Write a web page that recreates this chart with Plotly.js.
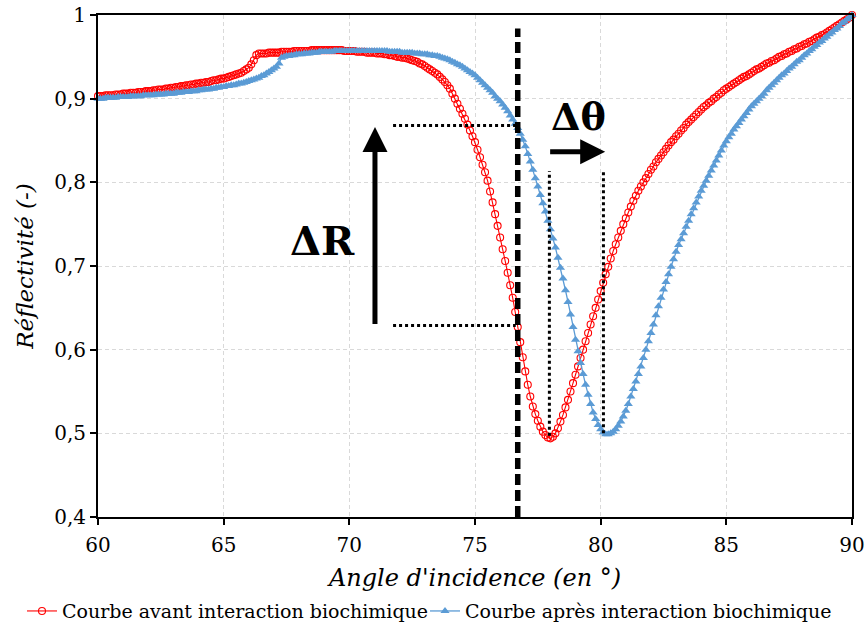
<!DOCTYPE html>
<html><head><meta charset="utf-8">
<script src="https://cdn.plot.ly/plotly-3.0.1.min.js"></script>
<style>html,body{margin:0;padding:0;background:#fff}#chart{width:867px;height:630px}</style>
</head><body><div id="chart"></div><script>
// Angle of incidence (degrees)
const angles = [
60.0,60.1,60.2,60.3,60.4,60.5,60.6,60.7,60.8,60.9,
61.0,61.1,61.2,61.3,61.4,61.5,61.6,61.7,61.8,61.9,
62.0,62.1,62.2,62.3,62.4,62.5,62.6,62.7,62.8,62.9,
63.0,63.1,63.2,63.3,63.4,63.5,63.6,63.7,63.8,63.9,
64.0,64.1,64.2,64.3,64.4,64.5,64.6,64.7,64.8,64.9,
65.0,65.1,65.2,65.3,65.4,65.5,65.6,65.7,65.8,65.9,
66.0,66.1,66.2,66.3,66.4,66.5,66.6,66.7,66.8,66.9,
67.0,67.1,67.2,67.3,67.4,67.5,67.6,67.7,67.8,67.9,
68.0,68.1,68.2,68.3,68.4,68.5,68.6,68.7,68.8,68.9,
69.0,69.1,69.2,69.3,69.4,69.5,69.6,69.7,69.8,69.9,
70.0,70.1,70.2,70.3,70.4,70.5,70.6,70.7,70.8,70.9,
71.0,71.1,71.2,71.3,71.4,71.5,71.6,71.7,71.8,71.9,
72.0,72.1,72.2,72.3,72.4,72.5,72.6,72.7,72.8,72.9,
73.0,73.1,73.2,73.3,73.4,73.5,73.6,73.7,73.8,73.9,
74.0,74.1,74.2,74.3,74.4,74.5,74.6,74.7,74.8,74.9,
75.0,75.1,75.2,75.3,75.4,75.5,75.6,75.7,75.8,75.9,
76.0,76.1,76.2,76.3,76.4,76.5,76.6,76.7,76.8,76.9,
77.0,77.1,77.2,77.3,77.4,77.5,77.6,77.7,77.8,77.9,
78.0,78.1,78.2,78.3,78.4,78.5,78.6,78.7,78.8,78.9,
79.0,79.1,79.2,79.3,79.4,79.5,79.6,79.7,79.8,79.9,
80.0,80.1,80.2,80.3,80.4,80.5,80.6,80.7,80.8,80.9,
81.0,81.1,81.2,81.3,81.4,81.5,81.6,81.7,81.8,81.9,
82.0,82.1,82.2,82.3,82.4,82.5,82.6,82.7,82.8,82.9,
83.0,83.1,83.2,83.3,83.4,83.5,83.6,83.7,83.8,83.9,
84.0,84.1,84.2,84.3,84.4,84.5,84.6,84.7,84.8,84.9,
85.0,85.1,85.2,85.3,85.4,85.5,85.6,85.7,85.8,85.9,
86.0,86.1,86.2,86.3,86.4,86.5,86.6,86.7,86.8,86.9,
87.0,87.1,87.2,87.3,87.4,87.5,87.6,87.7,87.8,87.9,
88.0,88.1,88.2,88.3,88.4,88.5,88.6,88.7,88.8,88.9,
89.0,89.1,89.2,89.3,89.4,89.5,89.6,89.7,89.8,89.9,
90.0];

// Reflectivity before biochemical interaction
const reflAvant = [
0.903,0.903,0.903,0.904,0.904,0.904,0.904,0.905,0.905,0.905,
0.906,0.906,0.906,0.907,0.907,0.907,0.908,0.908,0.908,0.909,
0.909,0.909,0.910,0.910,0.911,0.911,0.911,0.912,0.912,0.913,
0.913,0.914,0.914,0.915,0.915,0.916,0.916,0.917,0.917,0.918,
0.918,0.919,0.919,0.920,0.920,0.921,0.922,0.922,0.923,0.924,
0.924,0.925,0.926,0.927,0.928,0.929,0.930,0.931,0.933,0.935,
0.937,0.941,0.946,0.952,0.954,0.954,0.954,0.954,0.955,0.955,
0.955,0.955,0.955,0.956,0.956,0.956,0.956,0.956,0.957,0.957,
0.957,0.957,0.957,0.957,0.957,0.958,0.958,0.958,0.958,0.958,
0.958,0.958,0.958,0.958,0.958,0.958,0.958,0.958,0.957,0.957,
0.957,0.957,0.957,0.956,0.956,0.956,0.956,0.955,0.955,0.955,
0.955,0.954,0.954,0.954,0.953,0.953,0.952,0.952,0.951,0.950,
0.950,0.949,0.949,0.948,0.947,0.946,0.945,0.944,0.942,0.941,
0.939,0.937,0.935,0.933,0.931,0.929,0.926,0.923,0.920,0.916,
0.912,0.906,0.900,0.894,0.888,0.882,0.876,0.869,0.862,0.855,
0.848,0.839,0.830,0.821,0.812,0.802,0.789,0.776,0.762,0.748,
0.734,0.720,0.706,0.692,0.677,0.662,0.645,0.627,0.609,0.591,
0.574,0.558,0.544,0.532,0.523,0.515,0.508,0.502,0.498,0.495,
0.494,0.496,0.500,0.506,0.514,0.522,0.531,0.540,0.550,0.560,
0.570,0.580,0.590,0.600,0.610,0.620,0.630,0.640,0.650,0.660,
0.670,0.680,0.690,0.699,0.709,0.718,0.726,0.734,0.742,0.750,
0.757,0.764,0.771,0.778,0.784,0.790,0.795,0.800,0.805,0.810,
0.815,0.819,0.824,0.828,0.832,0.836,0.840,0.844,0.848,0.851,
0.855,0.858,0.862,0.865,0.869,0.872,0.875,0.878,0.881,0.884,
0.887,0.890,0.892,0.895,0.897,0.900,0.902,0.905,0.907,0.910,
0.912,0.914,0.916,0.918,0.920,0.922,0.924,0.926,0.927,0.929,
0.931,0.933,0.935,0.936,0.938,0.940,0.942,0.943,0.945,0.946,
0.948,0.950,0.951,0.953,0.954,0.956,0.957,0.959,0.960,0.962,
0.963,0.965,0.966,0.968,0.969,0.971,0.973,0.974,0.976,0.977,
0.979,0.981,0.983,0.985,0.987,0.989,0.991,0.993,0.995,0.997,
1.000];

// Reflectivity after biochemical interaction
const reflApres = [
0.900,0.900,0.900,0.901,0.901,0.901,0.901,0.901,0.902,0.902,
0.902,0.902,0.902,0.903,0.903,0.903,0.903,0.903,0.904,0.904,
0.904,0.904,0.904,0.905,0.905,0.905,0.905,0.906,0.906,0.906,
0.906,0.907,0.907,0.907,0.908,0.908,0.908,0.909,0.909,0.909,
0.910,0.910,0.911,0.911,0.911,0.912,0.912,0.913,0.913,0.914,
0.914,0.915,0.915,0.916,0.916,0.917,0.918,0.918,0.919,0.920,
0.921,0.922,0.923,0.924,0.925,0.927,0.928,0.930,0.932,0.934,
0.936,0.938,0.942,0.949,0.950,0.951,0.951,0.952,0.952,0.953,
0.953,0.953,0.954,0.954,0.954,0.955,0.955,0.955,0.956,0.956,
0.956,0.956,0.956,0.956,0.957,0.957,0.957,0.957,0.957,0.957,
0.957,0.957,0.957,0.957,0.957,0.957,0.957,0.957,0.957,0.957,
0.957,0.957,0.957,0.957,0.957,0.957,0.956,0.956,0.956,0.956,
0.956,0.955,0.955,0.955,0.955,0.955,0.954,0.954,0.954,0.953,
0.953,0.953,0.952,0.952,0.951,0.951,0.950,0.949,0.948,0.947,
0.946,0.944,0.943,0.941,0.940,0.938,0.936,0.934,0.932,0.930,
0.928,0.925,0.922,0.919,0.916,0.913,0.910,0.907,0.903,0.900,
0.897,0.893,0.889,0.885,0.880,0.875,0.870,0.865,0.858,0.851,
0.843,0.834,0.825,0.815,0.805,0.795,0.785,0.775,0.765,0.754,
0.744,0.733,0.722,0.710,0.698,0.685,0.671,0.657,0.642,0.627,
0.612,0.598,0.584,0.571,0.558,0.546,0.535,0.525,0.517,0.510,
0.505,0.501,0.499,0.499,0.500,0.502,0.505,0.509,0.514,0.520,
0.527,0.535,0.544,0.553,0.562,0.571,0.580,0.590,0.600,0.610,
0.620,0.630,0.641,0.652,0.662,0.672,0.681,0.690,0.699,0.708,
0.717,0.725,0.732,0.739,0.747,0.754,0.762,0.769,0.776,0.783,
0.790,0.796,0.802,0.808,0.814,0.820,0.826,0.832,0.838,0.844,
0.849,0.854,0.858,0.863,0.867,0.871,0.875,0.879,0.883,0.887,
0.891,0.894,0.897,0.900,0.903,0.906,0.910,0.913,0.916,0.919,
0.922,0.925,0.928,0.930,0.933,0.936,0.938,0.941,0.944,0.946,
0.949,0.952,0.954,0.957,0.959,0.962,0.964,0.967,0.969,0.972,
0.974,0.977,0.979,0.982,0.984,0.987,0.990,0.992,0.995,0.997,
1.000];

const seriesNames = ['Courbe avant interaction biochimique', 'Courbe après interaction biochimique'];

// Annotation guides (data coordinates)
const workingAngle = 76.7;          // thick dashed vertical
const workingAngleTop = 0.984;
const deltaRLevels = [0.868, 0.629]; // dotted horizontals
const deltaRFromX = 71.74;
const deltaRToX = 76.62;
const resonanceAngles = [77.96, 80.11]; // dotted verticals
const resonanceMins = [0.497, 0.500];
const resonanceTop = 0.8135;
const arrowRX = 71.02, arrowRFrom = 0.629, arrowRTo = 0.866;
const arrowTY = 0.8366, arrowTFrom = 77.93, arrowTTo = 80.18;
const labelDR = {x: 68.95, y: 0.731};
const labelDT = {x: 79.12, y: 0.879};

const FONT = 'DejaVu Serif';
const traces = [
  {x: angles, y: reflAvant, name: seriesNames[0], type: 'scatter', mode: 'lines+markers', legend: 'legend',
   line: {color: '#FF0000', width: 1.1},
   marker: {symbol: 'circle-open', size: 7, color: '#FF0000', line: {width: 1.1, color: '#FF0000'}},
   cliponaxis: false},
  {x: angles, y: reflApres, name: seriesNames[1], type: 'scatter', mode: 'lines+markers', legend: 'legend2',
   line: {color: '#5B9BD5', width: 1.3},
   marker: {symbol: 'triangle-up', size: 8, color: '#5B9BD5'},
   cliponaxis: false}
];

const shapes = [
  {type: 'line', xref: 'x', yref: 'y', x0: workingAngle, x1: workingAngle, y0: 0.4, y1: workingAngleTop,
   line: {color: '#000', width: 5.5, dash: '11px,5px'}, layer: 'above'}
];
deltaRLevels.forEach(v => shapes.push({type: 'line', xref: 'x', yref: 'y', x0: deltaRFromX, x1: deltaRToX, y0: v, y1: v,
   line: {color: '#000', width: 3, dash: 'dot'}, layer: 'above'}));
resonanceAngles.forEach((a, i) => shapes.push({type: 'line', xref: 'x', yref: 'y', x0: a, x1: a, y0: resonanceMins[i], y1: resonanceTop,
   line: {color: '#000', width: 3, dash: 'dot'}, layer: 'above'}));

const annotations = [
  {x: arrowRX, y: arrowRTo, ax: arrowRX, ay: arrowRFrom, xref: 'x', yref: 'y', axref: 'x', ayref: 'y',
   text: '', showarrow: true, arrowhead: 2, arrowsize: 1, arrowwidth: 5, arrowcolor: '#000', standoff: 0},
  {x: arrowTTo, y: arrowTY, ax: arrowTFrom, ay: arrowTY, xref: 'x', yref: 'y', axref: 'x', ayref: 'y',
   text: '', showarrow: true, arrowhead: 2, arrowsize: 1, arrowwidth: 5, arrowcolor: '#000', standoff: 0},
  {x: labelDR.x, y: labelDR.y, xref: 'x', yref: 'y', text: 'ΔR', showarrow: false,
   font: {family: FONT, size: 40, color: '#000', weight: 700}},
  {x: labelDT.x, y: labelDT.y, xref: 'x', yref: 'y', text: 'Δθ', showarrow: false,
   font: {family: FONT, size: 38, color: '#000', weight: 700}}
];

const legendBase = {orientation: 'h', xref: 'container', yref: 'container', y: 0.03, yanchor: 'middle', xanchor: 'left',
  font: {family: FONT, size: 19, color: '#000'}, itemwidth: 30, bgcolor: 'rgba(0,0,0,0)', borderwidth: 0};

const layout = {
  width: 867, height: 630,
  margin: {l: 98, r: 15, t: 15, b: 113},
  paper_bgcolor: '#fff', plot_bgcolor: '#fff',
  separators: ', ',
  font: {family: FONT, color: '#000'},
  showlegend: true,
  legend: Object.assign({}, legendBase, {x: 22 / 867}),
  legend2: Object.assign({}, legendBase, {x: 425 / 867}),
  xaxis: {range: [60, 90], tick0: 60, dtick: 5, showgrid: true, gridcolor: '#d9d9d9', griddash: '4px,3px', gridwidth: 1,
          showline: true, linecolor: '#000', linewidth: 2, mirror: true, zeroline: false,
          ticks: 'outside', ticklen: 6, tickwidth: 2, tickcolor: '#000', ticklabelstandoff: 3,
          tickfont: {family: FONT, size: 20, color: '#000'},
          title: {text: "Angle d'incidence (en °)", font: {family: FONT, size: 24, style: 'italic', color: '#000'}, standoff: 28}},
  yaxis: {range: [0.4, 1], tick0: 0.4, dtick: 0.1, showgrid: true, gridcolor: '#d9d9d9', griddash: '4px,3px', gridwidth: 1,
          showline: true, linecolor: '#000', linewidth: 2, mirror: true, zeroline: false,
          ticks: 'outside', ticklen: 6, tickwidth: 2, tickcolor: '#000',
          tickfont: {family: FONT, size: 20, color: '#000'},
          title: {text: 'Réflectivité (-)', font: {family: FONT, size: 23, style: 'italic', color: '#000'}, standoff: 14}},
  shapes: shapes,
  annotations: annotations
};

Plotly.newPlot('chart', traces, layout, {staticPlot: true, displayModeBar: false});
</script></body></html>
